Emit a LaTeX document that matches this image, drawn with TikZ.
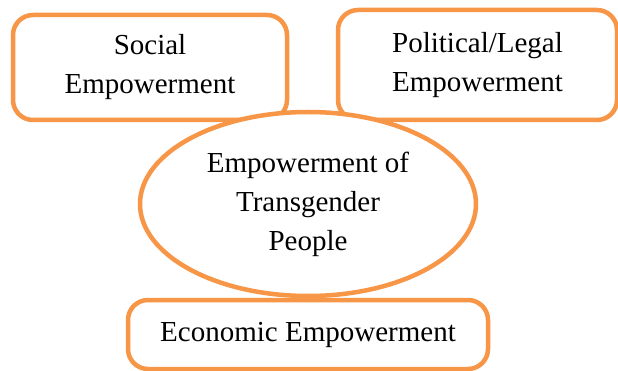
\documentclass[tikz,border=0pt]{standalone}
\usepackage{fontspec}
\setmainfont{Liberation Serif}
\usetikzlibrary{shapes.geometric}
\definecolor{boxorange}{HTML}{F79646}

\begin{document}
\begin{tikzpicture}[x=1pt, y=-1pt,
        box/.style={draw=boxorange, line width=4.5pt, rounded corners=20pt, fill=white,
            align=center, inner sep=0pt, font=\fontsize{29}{39}\selectfont},
        oval/.style={ellipse, draw=boxorange, line width=4.5pt, fill=white,
            align=center, inner sep=0pt, font=\fontsize{29}{39}\selectfont}]
    \useasboundingbox (0,0) rectangle (618,371);

    \node[box, minimum width=274pt, minimum height=105pt] (social) at (150,67.5) {Social\\Empowerment};
    \node[box, minimum width=279pt, minimum height=110pt] (political) at (477.5,65) {Political/Legal\\Empowerment};

    \node[oval, minimum width=336pt, minimum height=184pt] (people) at (308,204) {Empowerment of\\Transgender\\People};

    \node[box, minimum width=360pt, minimum height=69pt] (economic) at (308,334.5) {Economic Empowerment};
\end{tikzpicture}
\end{document}
